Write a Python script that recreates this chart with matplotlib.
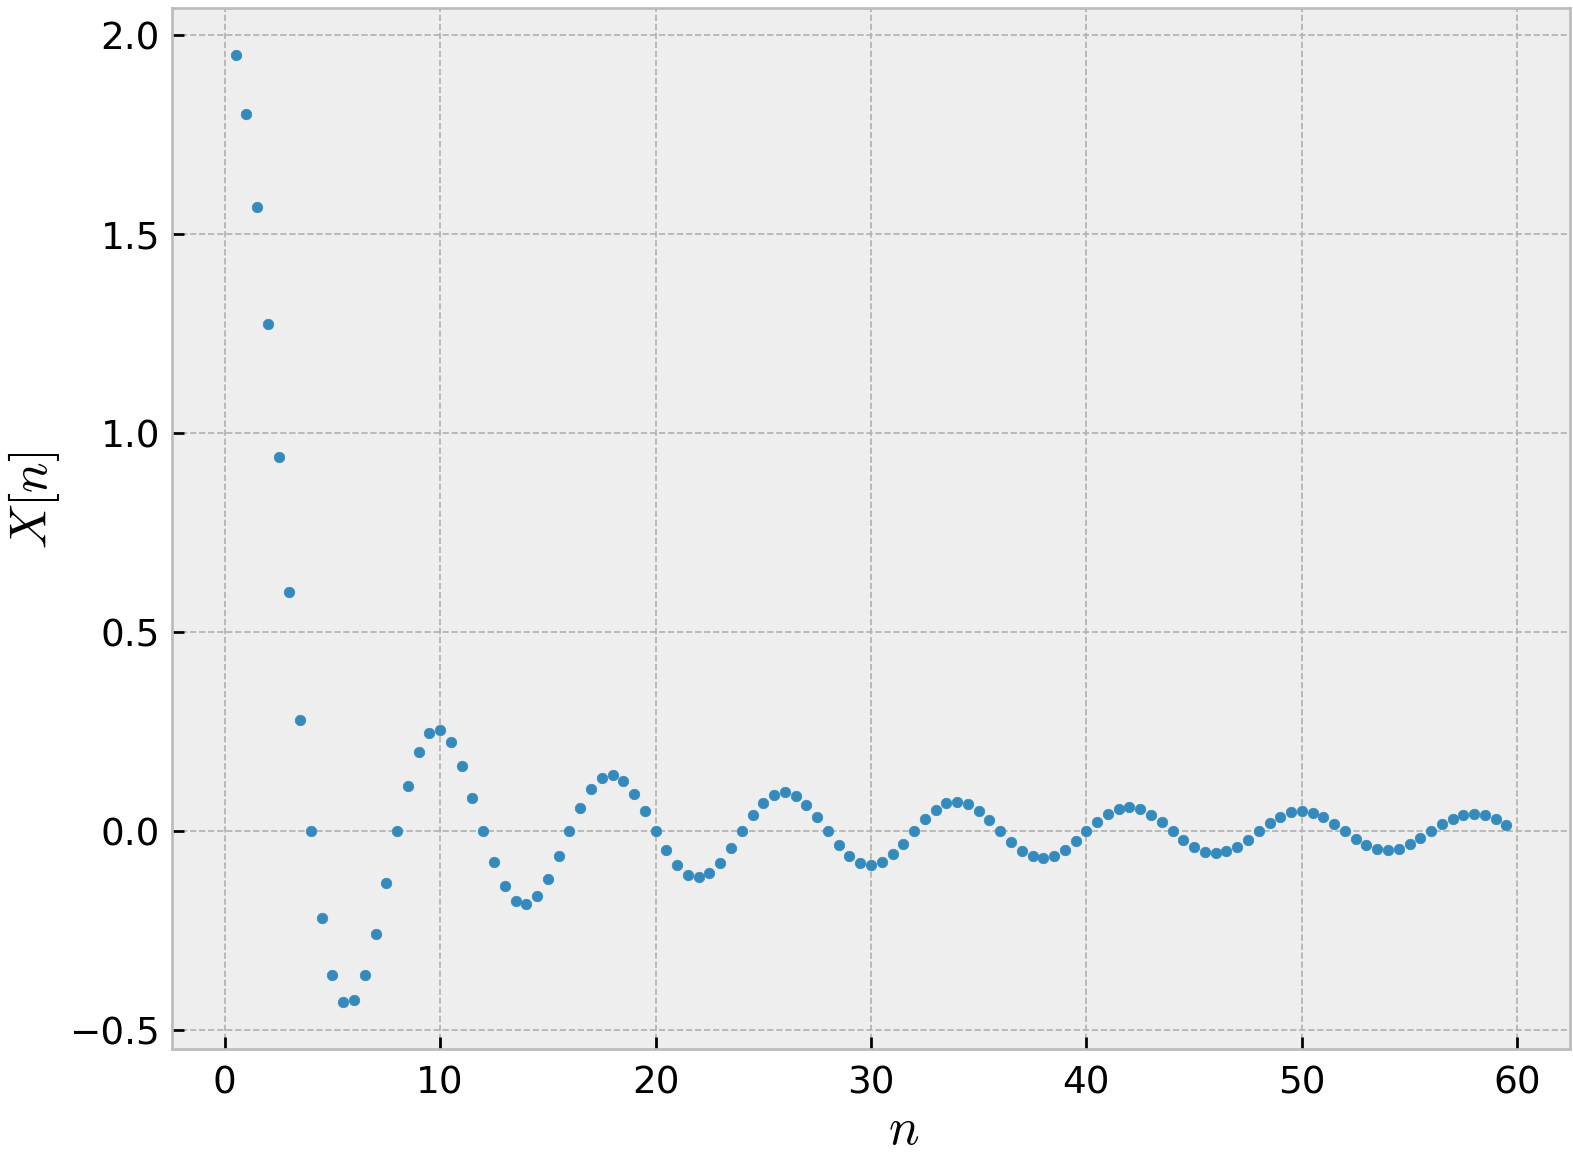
import numpy as np
import matplotlib
matplotlib.use("Agg")
import matplotlib.pyplot as plt

plt.style.use("bmh")

# sample index (half-step spacing) and spectrum values X[n]
n = np.arange(0.5, 60.0, 0.5)
X = [
    1.9490, 1.8006, 1.5684, 1.2732, 0.9411, 0.6002, 0.2784, 0.0,
    -0.2166, -0.3601, -0.4278, -0.4244, -0.3619, -0.2572, -0.1299, 0.0,
    0.1146, 0.2001, 0.2476, 0.2546, 0.2241, 0.1637, 0.0847, 0.0,
    -0.0780, -0.1385, -0.1743, -0.1819, -0.1623, -0.1200, -0.0629, 0.0,
    0.0591, 0.1059, 0.1344, 0.1415, 0.1272, 0.0948, 0.0500, 0.0,
    -0.0475, -0.0857, -0.1094, -0.1157, -0.1046, -0.0783, -0.0415, 0.0,
    0.0398, 0.0720, 0.0923, 0.0979, 0.0888, 0.0667, 0.0354, 0.0,
    -0.0342, -0.0621, -0.0798, -0.0849, -0.0771, -0.0581, -0.0309, 0.0,
    0.0300, 0.0546, 0.0702, 0.0749, 0.0682, 0.0514, 0.0275, 0.0,
    -0.0267, -0.0487, -0.0627, -0.0670, -0.0611, -0.0462, -0.0247, 0.0,
    0.0241, 0.0439, 0.0567, 0.0606, 0.0554, 0.0419, 0.0224, 0.0,
    -0.0219, -0.0400, -0.0517, -0.0554, -0.0506, -0.0383, -0.0205, 0.0,
    0.0201, 0.0367, 0.0475, 0.0509, 0.0466, 0.0353, 0.0189, 0.0,
    -0.0186, -0.0340, -0.0440, -0.0472, -0.0432, -0.0327, -0.0176, 0.0,
    0.0172, 0.0316, 0.0409, 0.0439, 0.0402, 0.0305, 0.0164,
]

x_ticks = [0, 10, 20, 30, 40, 50, 60]
y_ticks = [-0.5, 0.0, 0.5, 1.0, 1.5, 2.0]

plt.rcParams["mathtext.fontset"] = "cm"

fig = plt.figure(figsize=(1573 / 245, 1154 / 245), dpi=245)
ax = fig.add_axes([172 / 1573, 1 - 1049 / 1154, (1570 - 172) / 1573, (1049 - 8) / 1154])

ax.plot(n, X, linestyle="none", marker="o", markersize=3.1,
        markeredgewidth=0.2, color="#348ABD")

ax.set_xticks(x_ticks)
ax.set_yticks(y_ticks)
ax.tick_params(labelsize=11, color="black")
ax.tick_params(axis="x", pad=4.5)
ax.grid(True, color="#b2b2b2", linestyle="--", linewidth=0.5)

ax.set_xlabel(r"$n$", fontsize=15, labelpad=1, x=0.523)
ax.set_ylabel(r"$X[n]$", fontsize=15)
ax.yaxis.set_label_coords(-0.079, 0.527)

fig.savefig("out.png", dpi=245)
